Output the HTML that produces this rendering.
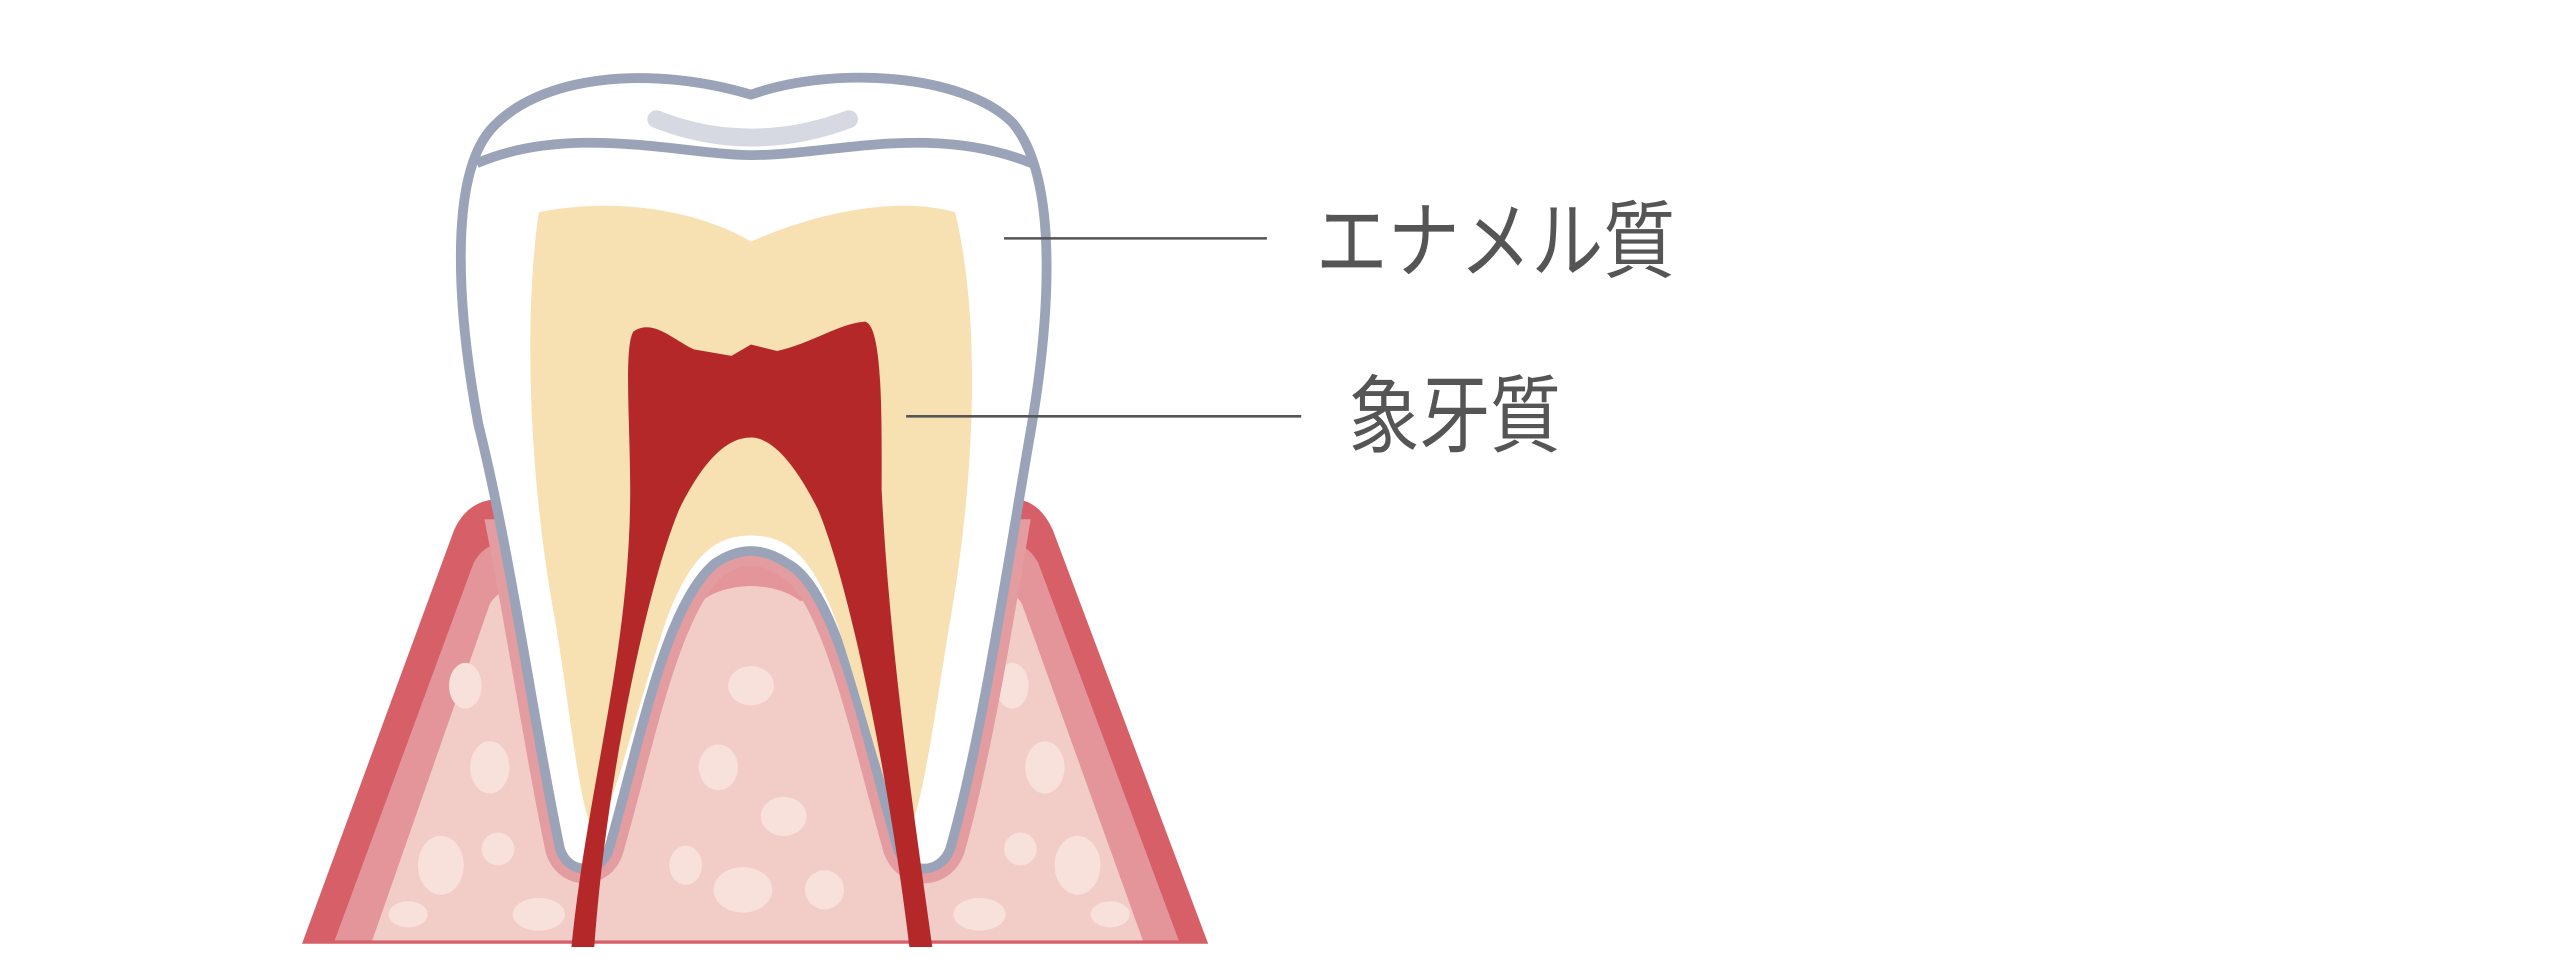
<!DOCTYPE html>
<html><head><meta charset="utf-8"><style>
html,body{margin:0;padding:0;background:#fff;width:2560px;height:977px;overflow:hidden}
svg{display:block}
</style></head><body>
<svg width="2560" height="977" viewBox="0 0 1568 598.4" preserveAspectRatio="none" xmlns="http://www.w3.org/2000/svg">
<defs><clipPath id="low"><rect x="0" y="318" width="1568" height="300"/></clipPath></defs>
<rect width="1568" height="598.4" fill="#fff"/>
<path d="M185,578 L278,325 C288,302 312,300 330,318 L600,318 C615,300 635,302 645,325 L740,578 Z" fill="#d65f68"/>
<path d="M205,576 L290,345 C298,330 312,330 322,340 L605,340 C615,330 628,330 636,345 L722,576 Z" fill="#e4959a"/>
<path d="M228,576 L300,370 C306,360 315,360 322,368 L430,368 C445,356 475,356 490,368 L605,368 C612,360 620,360 626,370 L700,576 Z" fill="#f2cdc8"/>
<g fill="#f8e1da">
<ellipse cx="270" cy="530" rx="14" ry="18"/><ellipse cx="300" cy="470" rx="12" ry="16"/><ellipse cx="285" cy="420" rx="10" ry="14"/>
<ellipse cx="330" cy="560" rx="16" ry="10"/><ellipse cx="250" cy="560" rx="12" ry="8"/><ellipse cx="305" cy="520" rx="10" ry="10"/>
<ellipse cx="460" cy="420" rx="14" ry="12"/><ellipse cx="440" cy="470" rx="12" ry="14"/><ellipse cx="480" cy="500" rx="14" ry="12"/>
<ellipse cx="455" cy="545" rx="18" ry="14"/><ellipse cx="420" cy="530" rx="10" ry="12"/><ellipse cx="505" cy="545" rx="12" ry="12"/>
<ellipse cx="620" cy="420" rx="10" ry="14"/><ellipse cx="640" cy="470" rx="12" ry="16"/><ellipse cx="625" cy="520" rx="10" ry="10"/>
<ellipse cx="660" cy="530" rx="14" ry="18"/><ellipse cx="600" cy="560" rx="16" ry="10"/><ellipse cx="680" cy="560" rx="12" ry="8"/>
</g>
<path clip-path="url(#low)" d="M300,80 C330,45 400,40 460,58 C510,40 590,45 620,75 C650,110 642,200 632,260 C618,340 602,450 582,520 C576,536 556,536 550,520 C530,450 512,360 482,345 C467,335 453,335 438,345 C408,370 393,450 373,520 C368,536 348,536 343,520 C328,450 313,340 293,260 C280,190 275,110 300,80 Z" fill="#fff" stroke="#e39ca0" stroke-width="18" stroke-linejoin="round"/>
<path d="M300,80 C330,45 400,40 460,58 C510,40 590,45 620,75 C650,110 642,200 632,260 C618,340 602,450 582,520 C576,536 556,536 550,520 C530,450 512,360 482,345 C467,335 453,335 438,345 C408,370 393,450 373,520 C368,536 348,536 343,520 C328,450 313,340 293,260 C280,190 275,110 300,80 Z" fill="#fff" stroke="#9aa3b8" stroke-width="6" stroke-linejoin="round"/>
<path d="M292,100 C350,75 420,95 460,95 C510,95 570,75 632,100" fill="none" stroke="#9aa3b8" stroke-width="6"/>
<path d="M402,73 C440,88 480,88 520,73" fill="none" stroke="#d6d9e2" stroke-width="11" stroke-linecap="round"/>
<path d="M330,130 C380,120 430,130 460,148 C500,130 550,120 585,130 C602,200 596,300 582,380 C572,440 566,490 556,512 C546,502 532,440 512,380 C497,340 482,328 460,328 C438,328 423,340 408,380 C388,440 374,502 364,512 C354,490 350,440 340,380 C325,300 320,200 330,130 Z" fill="#f7e1b3"/>
<path d="M388,203 C400,195 412,208 425,214 L448,218 460,211 476,215 C498,210 514,198 530,197 C541,200 540,260 540,300 C545,400 560,500 571,580 L557,580 C545,480 521,360 501,312 C486,282 472,268 460,268 C445,268 431,282 416,312 C396,360 371,480 364,580 L350,580 C360,480 386,400 386,300 C386,260 382,212 388,203 Z" fill="#b5282a"/>
<line x1="615" y1="146" x2="776" y2="146" stroke="#555" stroke-width="1.6"/>
<line x1="555" y1="255" x2="797" y2="255" stroke="#555" stroke-width="1.6"/>
<text x="806" y="166" font-family="'Noto Sans CJK JP',sans-serif" font-size="52" fill="#555" textLength="220" lengthAdjust="spacingAndGlyphs">エナメル質</text>
<text x="826" y="273" font-family="'Noto Sans CJK JP',sans-serif" font-size="52" fill="#555" textLength="130" lengthAdjust="spacingAndGlyphs">象牙質</text>
</svg>
</body></html>
